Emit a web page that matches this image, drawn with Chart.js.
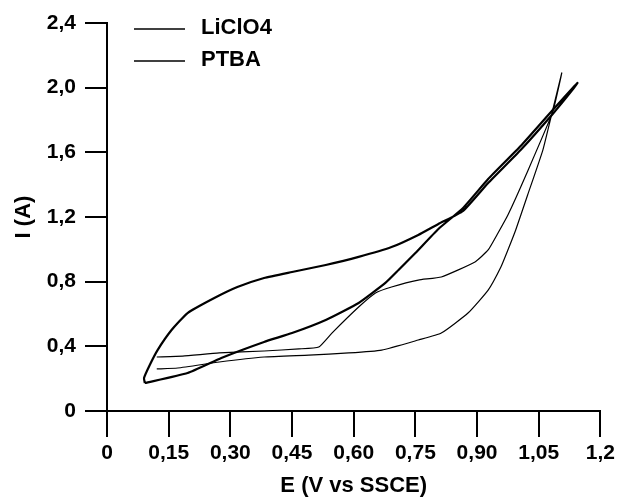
<!DOCTYPE html>
<html>
<head>
<meta charset="utf-8">
<script src="https://cdn.jsdelivr.net/npm/chart.js@4.4.1/dist/chart.umd.min.js"></script>
<style>
  body { margin: 0; background: #fff; }
  #wrap { width: 619px; height: 499px; }
</style>
</head>
<body>
<div id="wrap"><canvas id="cvChart" width="619" height="499"></canvas></div>
<script>
// Cyclic voltammograms, E (V vs SSCE) against I (A)
const seriesNames = ['LiClO4', 'PTBA'];

// LiClO4 loop: forward sweep then return
const liclo4E = [0.092, 0.196, 0.278, 0.382, 0.450, 0.532, 0.612, 0.677, 0.709, 0.750, 0.806, 0.866, 0.927, 1.006, 1.084, 1.144,
                 1.132, 1.084, 1.006, 0.927, 0.866, 0.806, 0.757, 0.692, 0.612, 0.532, 0.450, 0.382, 0.317, 0.261, 0.196, 0.157, 0.123, 0.104, 0.090, 0.092];
const liclo4I = [0.173, 0.235, 0.328, 0.427, 0.482, 0.563, 0.668, 0.792, 0.872, 0.977, 1.126, 1.256, 1.435, 1.639, 1.862, 2.029,
                 1.986, 1.837, 1.614, 1.410, 1.237, 1.157, 1.089, 1.014, 0.953, 0.903, 0.860, 0.823, 0.767, 0.699, 0.606, 0.501, 0.377, 0.285, 0.204, 0.173];

// PTBA loop
const ptbaE = [0.121, 0.172, 0.273, 0.382, 0.491, 0.588, 0.668, 0.757, 0.813, 0.878, 0.927, 0.958, 0.975, 0.994, 1.023, 1.060, 1.084, 1.106,
               1.084, 1.019, 0.975, 0.951, 0.927, 0.895, 0.813, 0.757, 0.692, 0.653, 0.612, 0.547, 0.515, 0.467, 0.382, 0.273, 0.184, 0.121];
const ptbaI = [0.260, 0.266, 0.303, 0.334, 0.346, 0.359, 0.377, 0.439, 0.482, 0.606, 0.748, 0.891, 0.996, 1.120, 1.336, 1.614, 1.862, 2.091,
               1.850, 1.460, 1.212, 1.101, 0.996, 0.922, 0.829, 0.810, 0.767, 0.730, 0.643, 0.482, 0.396, 0.384, 0.371, 0.359, 0.340, 0.334];

const xTickValues = [0, 0.15, 0.30, 0.45, 0.60, 0.75, 0.90, 1.05, 1.2];
const xTickLabels = ['0', '0,15', '0,30', '0,45', '0,60', '0,75', '0,90', '1,05', '1,2'];
const yTickValues = [0, 0.4, 0.8, 1.2, 1.6, 2.0, 2.4];
const yTickLabels = ['0', '0,4', '0,8', '1,2', '1,6', '2,0', '2,4'];

const toPoints = (xs, ys) => xs.map((x, i) => ({ x: x, y: ys[i] }));
const FONT = '"Liberation Sans", Arial, sans-serif';

// legend drawn inside the plot, top left
const inlineLegend = {
  id: 'inlineLegend',
  afterDatasetsDraw(chart) {
    const { ctx, chartArea } = chart;
    ctx.save();
    chart.data.datasets.forEach((ds, i) => {
      const y = chartArea.top + 6 + i * 32;
      ctx.strokeStyle = '#000';
      ctx.lineWidth = 1.6;
      ctx.beginPath();
      ctx.moveTo(chartArea.left + 27, y);
      ctx.lineTo(chartArea.left + 78, y);
      ctx.stroke();
      ctx.font = 'bold 22px ' + FONT;
      ctx.fillStyle = '#000';
      ctx.textBaseline = 'middle';
      ctx.fillText(ds.label, chartArea.left + 94, y - 1);
    });
    ctx.restore();
  }
};

const axisCommon = {
  border: { display: true, color: '#000', width: 2 },
  grid: { drawOnChartArea: false, drawTicks: true, color: '#000', lineWidth: 2 },
  ticks: { color: '#000', font: { family: FONT, size: 21, weight: 'bold' } },
  title: { display: true, color: '#000', font: { family: FONT, size: 22, weight: 'bold' } }
};

new Chart(document.getElementById('cvChart').getContext('2d'), {
  type: 'scatter',
  data: {
    datasets: [
      {
        label: seriesNames[0],
        data: toPoints(liclo4E, liclo4I),
        showLine: true,
        borderColor: '#000',
        borderWidth: 2.2,
        pointRadius: 0,
        tension: 0.15
      },
      {
        label: seriesNames[1],
        data: toPoints(ptbaE, ptbaI),
        showLine: true,
        borderColor: '#000',
        borderWidth: 1.2,
        pointRadius: 0,
        tension: 0.15
      }
    ]
  },
  options: {
    responsive: false,
    animation: false,
    layout: { padding: { top: 23, right: 16, left: 0, bottom: 0 } },
    plugins: { legend: { display: false }, tooltip: { enabled: false } },
    scales: {
      x: {
        type: 'linear',
        min: 0,
        max: 1.2,
        border: axisCommon.border,
        grid: Object.assign({}, axisCommon.grid, { tickLength: 26 }),
        ticks: Object.assign({}, axisCommon.ticks, {
          padding: 4,
          maxRotation: 0,
          callback: (value, index) => xTickLabels[index]
        }),
        title: Object.assign({}, axisCommon.title, { text: 'E (V vs SSCE)', padding: { top: 0, bottom: 0 } }),
        afterBuildTicks: scale => { scale.ticks = xTickValues.map(v => ({ value: v })); },
        afterFit: scale => { scale.height = 88; }
      },
      y: {
        type: 'linear',
        min: 0,
        max: 2.4,
        border: axisCommon.border,
        grid: Object.assign({}, axisCommon.grid, { tickLength: 22 }),
        ticks: Object.assign({}, axisCommon.ticks, {
          padding: 9,
          callback: (value, index) => yTickLabels[index]
        }),
        title: Object.assign({}, axisCommon.title, { text: 'I (A)', padding: { top: 11, bottom: 0 } }),
        afterBuildTicks: scale => { scale.ticks = yTickValues.map(v => ({ value: v })); },
        afterFit: scale => { scale.width = 107; }
      }
    }
  },
  plugins: [inlineLegend]
});
</script>
</body>
</html>
